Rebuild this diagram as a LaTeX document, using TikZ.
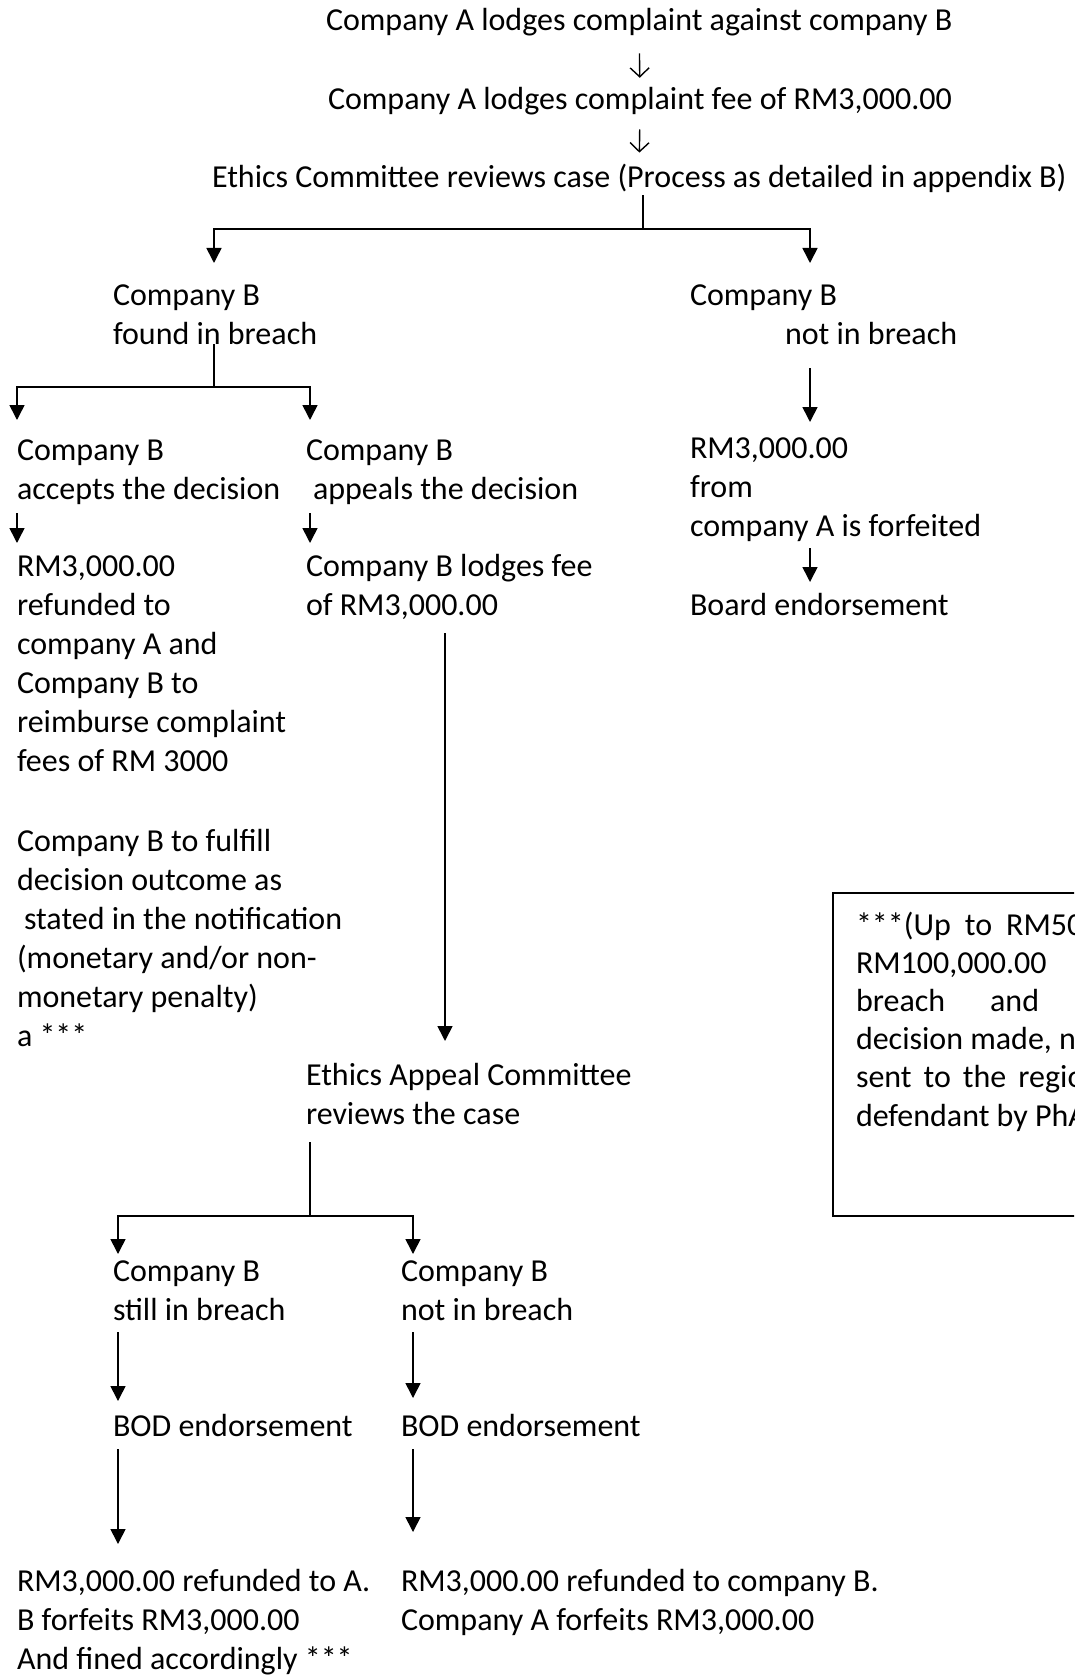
\documentclass[tikz,border=0pt]{standalone}
\usepackage{fontspec}
\setmainfont{Carlito}
\usetikzlibrary{arrows.meta}
\begin{document}
\begin{tikzpicture}[x=1pt,y=-1pt,
  txt/.style={anchor=base west, inner sep=0pt, outer sep=0pt, align=left, font=\fontsize{32}{39}\selectfont},
  boxtxt/.style={anchor=base west, inner sep=0pt, outer sep=0pt, align=left, font=\fontsize{32}{38.2}\selectfont},
  ln/.style={line width=1.6pt},
  arr/.style={line width=1.6pt, -{Triangle[length=15pt,width=15pt]}},
  glypharr/.style={line width=1.4pt, -{Straight Barb[length=9pt,width=19pt,line width=1.4pt]}}
]
\path[use as bounding box, clip] (0,0) rectangle (1074,1677);
\fill[white] (0,0) rectangle (1074,1677);

% top chain (multi-line nodes: base = baseline of last line)
\node[txt] (t1) at (326,31) {Company A lodges complaint against company B};
\node[txt] (t2) at (328,110) {Company A lodges complaint fee of RM3,000.00};
\node[txt] (t3) at (212,188) {Ethics Committee reviews case (Process as detailed in appendix B)};
\draw[glypharr, shorten <=17pt, shorten >=10pt] (t1.south) -- (t2.north);
\draw[glypharr, shorten <=14pt, shorten >=12pt] (t2.south) -- (t3.north);

% first split
\coordinate (j1) at (643,229);
\coordinate (tipA) at (214,263);
\coordinate (tipB) at (810,263);
\draw[ln, shorten <=2pt] (t3.south -| j1) -- (j1);
\draw[arr] (j1) -| (tipA);
\draw[arr] (j1) -| (tipB);

\node[txt] (n1) at (113,344) {Company B\\found in breach};
\node[txt] (n2) at (690,344) {Company B\\\hspace*{95pt}not in breach};

% second split (found in breach)
\coordinate (j2) at (214,387);
\coordinate (tipC) at (17,420);
\coordinate (tipD) at (310,420);
\draw[ln] (n1.south -| j2) -- (j2);
\draw[arr] (j2) -| (tipC);
\draw[arr] (j2) -| (tipD);

% not in breach branch
\coordinate (r1) at (810,368);
\coordinate (r2) at (810,422);
\draw[arr] (r1) -- (r2);
\node[txt] (n5) at (690,536) {RM3,000.00\\from\\company A is forfeited};
\coordinate (r3) at (810,548);
\coordinate (r4) at (810,582);
\draw[arr] (r3) -- (r4);
\node[txt] (n8) at (690,615) {Board endorsement};

% accepts / appeals
\node[txt] (n3) at (17,499) {Company B\\accepts the decision};
\node[txt] (n4) at (306,499) {Company B\\\hspace*{7pt}appeals the decision};
\coordinate (a1) at (17,513);
\coordinate (a2) at (17,543);
\draw[arr] (a1) -- (a2);
\coordinate (b1) at (310,513);
\coordinate (b2) at (310,543);
\draw[arr] (b1) -- (b2);

\node[txt] (n6) at (17,771) {RM3,000.00\\refunded to\\company A and\\Company B to\\reimburse complaint\\fees of RM 3000};
\node[txt] (n7) at (306,615) {Company B lodges fee\\of RM3,000.00};
\node[txt] (n9) at (17,1046) {Company B to fulfill\\decision outcome as\\\hspace*{7pt}stated in the notification\\(monetary and/or non-\\monetary penalty)\\a ***};

% long arrow to appeal committee
\coordinate (c1) at (445,633);
\coordinate (c2) at (445,1041);
\draw[arr] (c1) -- (c2);
\node[txt] (n10) at (306,1124) {Ethics Appeal Committee\\reviews the case};

% appeal split
\coordinate (j3) at (310,1216);
\coordinate (tipE) at (118,1254);
\coordinate (tipF) at (413,1254);
\coordinate (j3top) at (310,1142);
\draw[ln] (j3top) -- (j3);
\draw[arr] (j3) -| (tipE);
\draw[arr] (j3) -| (tipF);

\node[txt] (n11) at (113,1320) {Company B\\still in breach};
\node[txt] (n12) at (401,1320) {Company B\\not in breach};

\coordinate (d1) at (118,1332);
\coordinate (d2) at (118,1401);
\draw[arr] (d1) -- (d2);
\coordinate (e1) at (413,1332);
\coordinate (e2) at (413,1398);
\draw[arr] (e1) -- (e2);

\node[txt] (n13) at (113,1436) {BOD endorsement};
\node[txt] (n14) at (401,1436) {BOD endorsement};

\coordinate (f1) at (118,1449);
\coordinate (f2) at (118,1544);
\draw[arr] (f1) -- (f2);
\coordinate (g1) at (413,1449);
\coordinate (g2) at (413,1532);
\draw[arr] (g1) -- (g2);

\node[txt] (n15) at (17,1669) {RM3,000.00 refunded to A.\\B forfeits RM3,000.00\\And fined accordingly ***};
\node[txt] (n16) at (401,1630) {RM3,000.00 refunded to company B.\\Company A forfeits RM3,000.00};

% note box (cut off at the right edge)
\draw[line width=1.6pt] (1110,893) -- (833,893) -- (833,1216) -- (1110,1216);
\node[boxtxt] (n17) at (856,1126) {***(Up\hspace*{14pt}to\hspace*{14pt}RM50\\RM100,000.00\\breach\hspace*{45pt}and\\decision made, n\\sent\hspace*{12pt}to\hspace*{12pt}the\hspace*{12pt}regio\\defendant by PhA};
\end{tikzpicture}
\end{document}
